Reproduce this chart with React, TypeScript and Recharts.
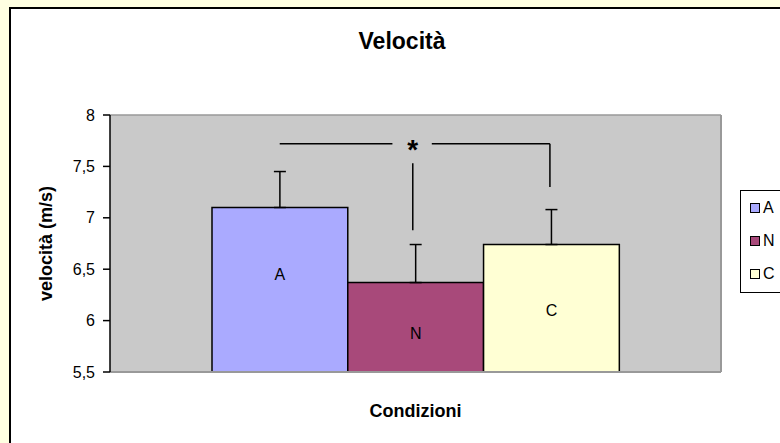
import React from 'react'
import {
  BarChart, Bar, XAxis, YAxis, CartesianGrid, ErrorBar, LabelList,
  Legend, ReferenceLine, ReferenceDot, Label,
} from 'recharts'

const categorie = ['A', 'N', 'C']
const medie = [7.1, 6.37, 6.74]
const errori = [0.35, 0.37, 0.34]
const colori = ['#AAAAFF', '#A8497A', '#FFFFD4']
const yTicks = [5.5, 6, 6.5, 7, 7.5, 8]
// the letters are not exactly centred in the original
const labelDy = [-15, 6, 2]

// significance bracket, x measured in bar widths (N bar = 0)
const bracketY = 7.72
const bracketLeftX = [-1, -0.17]
const bracketRightX = [0.12, 0.99]
const bracketRightBottom = 7.3
const starX = -0.02
const midLineY = [7.53, 6.88]

const FONT = '"Liberation Sans", Arial, sans-serif'
const W = 780
const H = 443
const M = { top: 115, right: 59, bottom: 0, left: 0 }
const Y_W = 110
const X_H = 71
const plotW = W - M.left - M.right - Y_W
const barW = plotW / 4.5

const row: Record<string, any> = { name: 'Condizioni', pos: 0 }
categorie.forEach((c, i) => {
  row[c] = medie[i]
  row[c + '_err'] = [0, errori[i]]
})
const data = [row]

function LegendBox({ payload }: any) {
  const items = [...(payload || [])].sort(
    (a: any, b: any) => categorie.indexOf(a.value) - categorie.indexOf(b.value),
  )
  return (
    <div style={{ border: '1px solid #000', background: '#fff', padding: '0 0 2px 9px', width: 80, boxSizing: 'border-box' }}>
      {items.map((p: any) => (
        <div key={p.value} style={{ display: 'flex', alignItems: 'center', height: 33, fontSize: 16, color: '#000' }}>
          <span style={{ width: 8, height: 8, border: '1px solid #000', background: p.color, marginRight: 3 }} />
          <span>{p.value}</span>
        </div>
      ))}
    </div>
  )
}

export default function App() {
  const seg = (x1: number, y1: number, x2: number, y2: number) => (
    <ReferenceLine
      key={`${x1}-${y1}-${x2}-${y2}`}
      xAxisId="pos"
      segment={[{ x: x1, y: y1 }, { x: x2, y: y2 }]}
      stroke="#000"
      strokeWidth={1.5}
    />
  )

  return (
    <div style={{ position: 'absolute', left: 0, top: 0, width: W, height: H, overflow: 'hidden', background: '#FFFFE1', fontFamily: FONT }}>
      <div style={{ position: 'absolute', left: 9, top: 7, width: 800, height: 460, border: '2px solid #000', background: '#fff' }} />
      <div style={{ position: 'absolute', left: 0, top: 28, width: 804, textAlign: 'center', fontSize: 23, fontWeight: 'bold', lineHeight: 1.15 }}>
        Velocità
      </div>
      <div style={{ position: 'absolute', left: 0, top: 0 }}>
        <BarChart width={W} height={H} data={data} margin={M} barSize={barW} barGap={0}>
          <CartesianGrid fill="#C9C9C9" horizontal={false} vertical={false} />
          <XAxis dataKey="name" tick={false} tickLine={false} height={X_H} axisLine={{ stroke: '#999', strokeWidth: 2 }}>
            <Label value="Condizioni" position="center" dy={3} style={{ fontSize: 18, fontWeight: 'bold', fill: '#000' }} />
          </XAxis>
          <XAxis xAxisId="pos" dataKey="pos" type="number" domain={[-2.25, 2.25]} hide allowDataOverflow />
          <YAxis
            domain={[5.5, 8]}
            ticks={yTicks}
            interval={0}
            width={Y_W}
            tickFormatter={(v) => String(v).replace('.', ',')}
            axisLine={{ stroke: '#000', strokeWidth: 1.5 }}
            tickLine={{ stroke: '#000', strokeWidth: 1.5 }}
            tickSize={7}
            tickMargin={8}
            tick={{ fill: '#000', fontSize: 16 }}
          >
            <Label value="velocità (m/s)" angle={-90} position="center" dx={-9} style={{ fontSize: 18, fontWeight: 'bold', fill: '#000' }} />
          </YAxis>
          <ReferenceLine y={8} stroke="#999" strokeWidth={1.5} />
          <ReferenceLine xAxisId="pos" x={2.25} stroke="#999" strokeWidth={2} />
          <Legend
            layout="vertical"
            align="center"
            verticalAlign="middle"
            content={<LegendBox />}
            wrapperStyle={{ position: 'absolute', left: 740, top: 190, width: 80, height: 'auto' }}
          />
          {categorie.map((c, i) => (
            <Bar key={c} dataKey={c} name={c} fill={colori[i]} stroke="#000" strokeWidth={1.5} isAnimationActive={false}>
              <ErrorBar dataKey={c + '_err'} direction="y" width={6} stroke="#000" strokeWidth={1.5} />
              <LabelList
                dataKey={c}
                content={(p: any) => (
                  <text
                    x={Number(p.x) + Number(p.width) / 2}
                    y={Number(p.y) + Number(p.height) / 2 + labelDy[i]}
                    textAnchor="middle"
                    dominantBaseline="central"
                    fontSize={16}
                    fill="#000"
                  >
                    {c}
                  </text>
                )}
              />
            </Bar>
          ))}
          {seg(bracketLeftX[0], bracketY, bracketLeftX[1], bracketY)}
          {seg(bracketRightX[0], bracketY, bracketRightX[1], bracketY)}
          {seg(bracketRightX[1], bracketY, bracketRightX[1], bracketRightBottom)}
          {seg(starX, midLineY[0], starX, midLineY[1])}
          <ReferenceDot
            xAxisId="pos"
            x={starX}
            y={bracketY}
            r={0}
            fill="none"
            stroke="none"
            label={{ value: '*', position: 'center', fontSize: 28, fontWeight: 'bold', fill: '#000', dy: 5 }}
          />
        </BarChart>
      </div>
    </div>
  )
}
